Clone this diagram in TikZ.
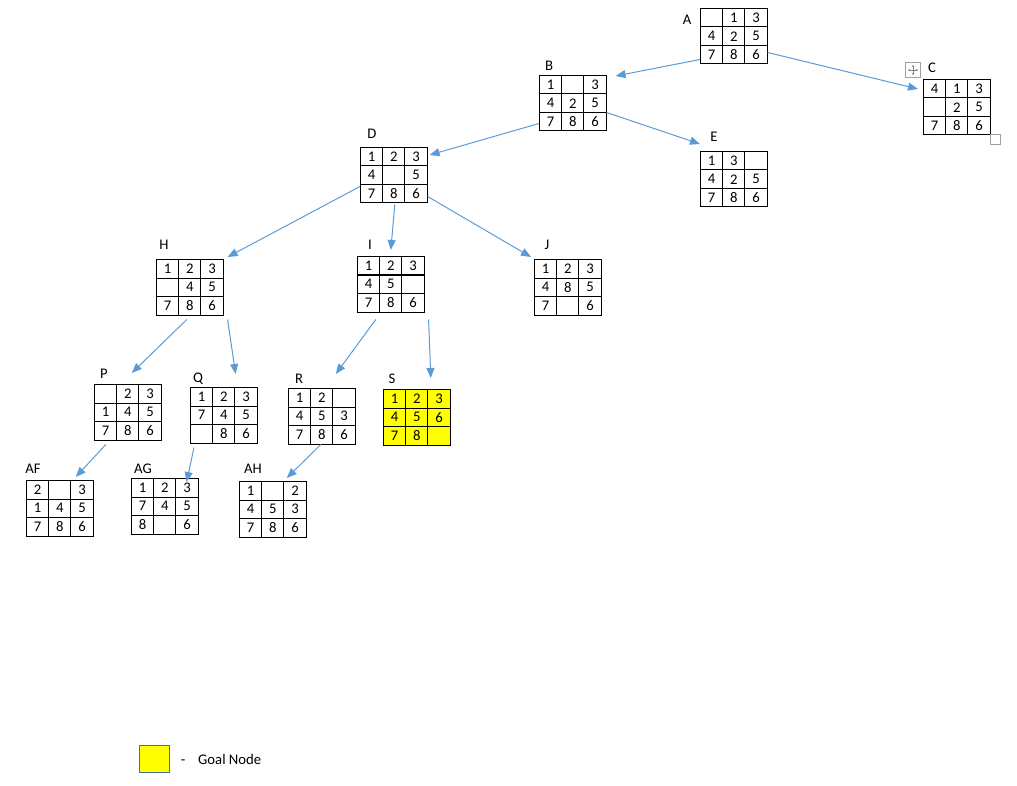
\documentclass[tikz,border=0pt]{standalone}
\usepackage{fontspec}
\setmainfont{Carlito}
\usetikzlibrary{arrows.meta, matrix, calc, positioning}
\definecolor{arcblue}{RGB}{91,155,213}
\definecolor{goalyellow}{RGB}{255,255,0}
\definecolor{goalframe}{RGB}{65,113,156}
\definecolor{handlegray}{RGB}{160,160,160}

\begin{document}
\begin{tikzpicture}[x=1pt, y=-1pt,
    puzzle/.style={matrix of nodes, nodes in empty cells, inner sep=0pt, outer sep=0pt,
      column sep=-1pt, row sep=-1pt,
      nodes={draw=black, line width=1pt, minimum width=22.2pt, minimum height=18.5pt,
        inner sep=0pt, anchor=center, font=\fontsize{14.7}{17}\selectfont}},
    goal/.style={nodes={fill=goalyellow}},
    tag/.style={font=\fontsize{14.7}{17}\selectfont, inner sep=0pt},
    arc/.style={draw=arcblue, line width=1pt, -{Triangle[length=10pt,width=8pt]}}]
        \useasboundingbox (0,0) rectangle (1017,786);

        % level 0 and 1
        \matrix (A) [puzzle, anchor=north west] at (700,8) { & 1 & 3 \\ 4 & 2 & 5 \\ 7 & 8 & 6 \\ };
        \matrix (B) [puzzle, anchor=north west] at (539,75) { 1 & & 3 \\ 4 & 2 & 5 \\ 7 & 8 & 6 \\ };
        \matrix (C) [puzzle, anchor=north west] at (923,79) { 4 & 1 & 3 \\ & 2 & 5 \\ 7 & 8 & 6 \\ };
        \node[tag] (labA) at (687,20) {A};
        \node[tag] (labB) at (549,66) {B};
        \node[tag] (labC) at (932,68) {C};

        % level 2
        \matrix (D) [puzzle, anchor=north west] at (360,147) { 1 & 2 & 3 \\ 4 & & 5 \\ 7 & 8 & 6 \\ };
        \matrix (E) [puzzle, anchor=north west] at (700,151) { 1 & 3 & \\ 4 & 2 & 5 \\ 7 & 8 & 6 \\ };
        \node[tag] (labD) at (372,134) {D};
        \node[tag] (labE) at (714,137) {E};

        % level 3
        \matrix (H) [puzzle, anchor=north west] at (156,259) { 1 & 2 & 3 \\ & 4 & 5 \\ 7 & 8 & 6 \\ };
        \matrix (I) [puzzle, anchor=north west] at (357,256) { 1 & 2 & 3 \\ 4 & 5 & \\ 7 & 8 & 6 \\ };
        \matrix (J) [puzzle, anchor=north west] at (534,259) { 1 & 2 & 3 \\ 4 & 8 & 5 \\ 7 & & 6 \\ };
        \node[tag] (labH) at (164,245) {H};
        \node[tag] (labI) at (370,245) {I};
        \node[tag] (labJ) at (547,245) {J};

        % level 4
        \matrix (P) [puzzle, anchor=north west] at (94,384) { & 2 & 3 \\ 1 & 4 & 5 \\ 7 & 8 & 6 \\ };
        \matrix (Q) [puzzle, anchor=north west] at (190,387) { 1 & 2 & 3 \\ 7 & 4 & 5 \\ & 8 & 6 \\ };
        \matrix (R) [puzzle, anchor=north west] at (288,388) { 1 & 2 & \\ 4 & 5 & 3 \\ 7 & 8 & 6 \\ };
        \matrix (S) [puzzle, goal, anchor=north west] at (383,389) { 1 & 2 & 3 \\ 4 & 5 & 6 \\ 7 & 8 & \\ };
        \node[tag] (labP) at (104,374) {P};
        \node[tag] (labQ) at (198,379) {Q};
        \node[tag] (labR) at (299,379) {R};
        \node[tag] (labS) at (392,379) {S};

        % level 5
        \matrix (AF) [puzzle, anchor=north west] at (26,480) { 2 & & 3 \\ 1 & 4 & 5 \\ 7 & 8 & 6 \\ };
        \matrix (AG) [puzzle, anchor=north west] at (131,478) { 1 & 2 & 3 \\ 7 & 4 & 5 \\ 8 & & 6 \\ };
        \matrix (AH) [puzzle, anchor=north west] at (239,481) { 1 & & 2 \\ 4 & 5 & 3 \\ 7 & 8 & 6 \\ };
        \node[tag] (labAF) at (33,469) {AF};
        \node[tag] (labAG) at (143,469) {AG};
        \node[tag] (labAH) at (253,469) {AH};

        % moves
        \draw[arc] ($(A.south west)+(0,-5)$) -- ($(B.north east)+(9,1)$);
        \draw[arc] ($(A.south east)+(0,-12)$) -- ($(C.north west)+(-5,10)$);
        \draw[arc] ($(B.south west)+(0,-8)$) -- ($(D.north east)+(2,8)$);
        \draw[arc] ($(B.south east)+(0,-19)$) -- ($(E.north west)+(0,-7)$);
        \draw[arc] ($(D.south west)+(0,-17)$) -- ($(H.north east)+(4,-2)$);
        \draw[arc] ($(D.south)+(1,1)$) -- ($(I.north)+(0,-6)$);
        \draw[arc] ($(D.south east)+(0,-7)$) -- ($(J.north west)+(-3,-2)$);
        \draw[arc] ($(H.south)+(-3,4)$) -- ($(P.north)+(4,-11)$);
        \draw[arc] ($(H.south east)+(4,4)$) -- ($(Q.north east)+(-22,-13)$);
        \draw[arc] ($(I.south)+(-15,7)$) -- ($(R.north)+(14,-14)$);
        \draw[arc] ($(I.south east)+(4,7)$) -- ($(S.north)+(14,-11)$);
        \draw[arc] ($(P.south)+(-22,4)$) -- ($(AF.north)+(16,-3)$);
        \draw[arc] ($(Q.south west)+(4,4)$) -- ($(AG.north east)+(-12,4)$);
        \draw[arc] ($(R.south)+(-1,0)$) -- ($(AH.north)+(14,-3)$);

        % handles round C
        \node[draw=handlegray, line width=1pt, minimum size=15pt, inner sep=0pt] (move) at (913,70) {};
        \draw[line width=0.6pt, gray, <->, >={Stealth[length=2pt,width=2.5pt]}] ($(move.west)+(3,0)$) -- ($(move.east)+(-3,0)$);
        \draw[line width=0.6pt, gray, <->, >={Stealth[length=2pt,width=2.5pt]}] ($(move.north)+(0,3)$) -- ($(move.south)+(0,-3)$);
        \node[draw=handlegray, line width=1pt, minimum size=10pt, inner sep=0pt] (resize) at (995,140) {};

        % legend
        \node[draw=goalframe, fill=goalyellow, line width=1pt, minimum width=30pt, minimum height=27pt, inner sep=0pt] (key) at (154,759) {};
        \node[tag] (dash) at (183,762) {-};
        \node[tag, anchor=west] (keytext) at (198,759) {Goal Node};
\end{tikzpicture}
\end{document}
